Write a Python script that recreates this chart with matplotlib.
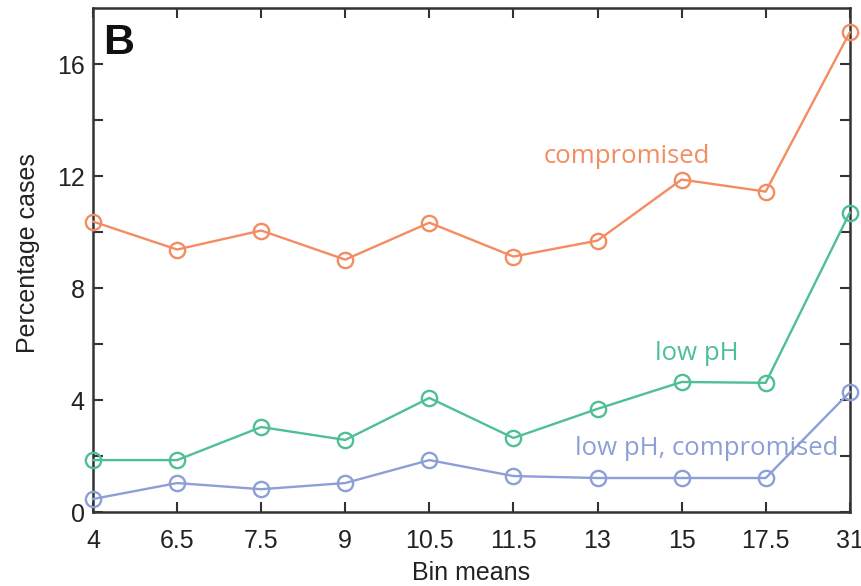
import numpy as np
import matplotlib.pyplot as plt

bin_labels = ['4', '6.5', '7.5', '9', '10.5', '11.5', '13', '15', '17.5', '31']
compromised = [10.38, 9.38, 10.06, 9.02, 10.34, 9.13, 9.70, 11.88, 11.45, 17.14]
low_ph = [1.86, 1.86, 3.04, 2.58, 4.08, 2.65, 3.69, 4.65, 4.62, 10.7]
low_ph_comp = [0.47, 1.04, 0.82, 1.04, 1.86, 1.29, 1.22, 1.22, 1.22, 4.29]

c_orange = '#f48c62'
c_green = '#4fbf94'
c_blue = '#8c9fd6'

plt.rcParams['font.family'] = ['Liberation Sans', 'DejaVu Sans']

fig = plt.figure(figsize=(8.61, 5.86), dpi=100)
ax = fig.add_axes([0.108, 0.126, 0.879, 0.860])

x = np.arange(len(bin_labels))
for vals, col in [(compromised, c_orange), (low_ph, c_green), (low_ph_comp, c_blue)]:
    ax.plot(x, vals, '-o', color=col, lw=1.7, markersize=11, markerfacecolor='none',
            markeredgewidth=1.7, clip_on=False, zorder=3)

ax.set_xlim(0, len(bin_labels) - 1)
ax.set_ylim(0, 18)
ax.set_xticks(x)
ax.set_xticklabels(bin_labels)
ax.set_yticks(np.arange(0, 17, 2))
ax.set_yticklabels([str(v) if v % 4 == 0 else '' for v in range(0, 17, 2)])
ax.tick_params(direction='in', length=7, width=1.5, labelsize=18, color='#333333',
               labelcolor='#222222', top=True, right=True)
ax.tick_params(axis='x', pad=12)
ax.tick_params(axis='y', pad=6)
for s in ax.spines.values():
    s.set_linewidth(1.8)
    s.set_color('#333333')

ax.set_xlabel('Bin means', fontsize=18, color='#222222', va='center')
ax.set_ylabel('Percentage cases', fontsize=18, color='#222222', va='center')
ax.xaxis.set_label_coords(0.499, -0.121)
ax.yaxis.set_label_coords(-0.086, 0.514)

tfont = ['Open Sans', 'DejaVu Sans']
ax.text(6.35, 12.7, 'compromised', color=c_orange, fontsize=18.5, family=tfont, ha='center', va='center')
ax.text(7.18, 5.65, 'low pH', color=c_green, fontsize=18.5, family=tfont, ha='center', va='center')
ax.text(7.3, 2.29, 'low pH, compromised', color=c_blue, fontsize=18.5, family=tfont, ha='center', va='center')
ax.text(0.12, 16.36, 'B', fontsize=31, fontweight='bold', ha='left', va='baseline', color='#111111')

fig.savefig('out.png', dpi=100)
